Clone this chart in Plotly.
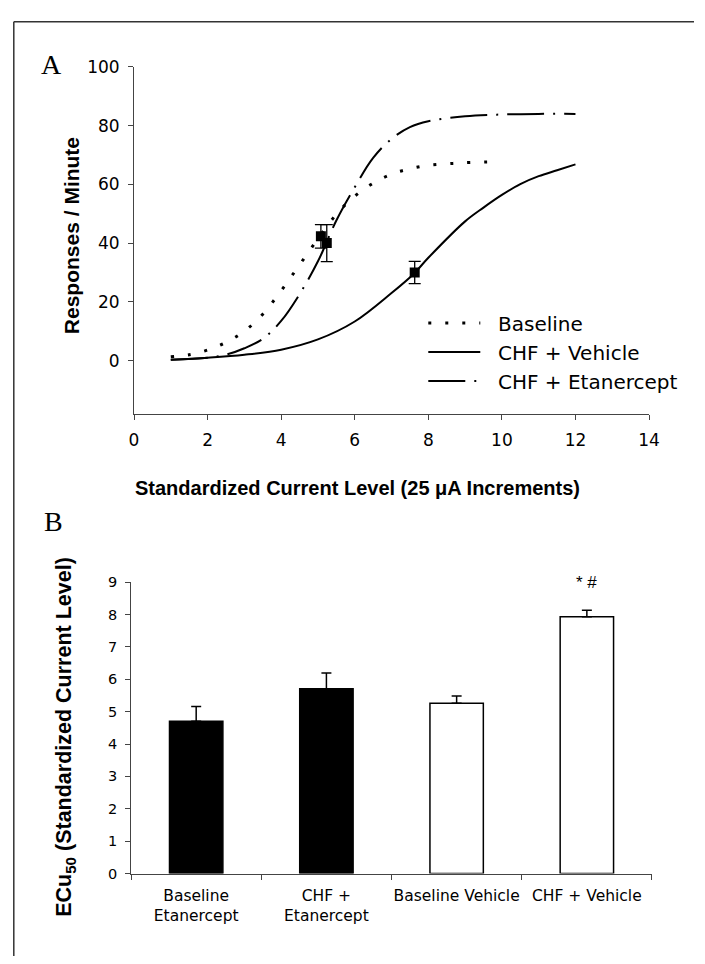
import plotly.graph_objects as go

W, H = 705, 964

# ---------------- Panel A data ----------------
base_x = [1, 1.5, 2, 2.5, 3, 3.5, 4, 4.5, 5, 5.5, 6, 6.5, 7, 7.5, 8, 8.5, 9, 9.8]
base_y = [1.3, 2.0, 3.6, 6.2, 10.0, 15.8, 23.8, 32.6, 41.5, 49.8, 56.0, 60.4, 63.5, 65.3, 66.5, 67.0, 67.4, 67.7]

veh_x = [1, 2, 3, 4, 5, 6, 7, 7.6, 8, 9, 9.5, 10, 10.5, 11, 11.5, 12]
veh_y = [0.3, 1.0, 2.0, 3.7, 7.2, 13.3, 23.0, 29.5, 35.0, 47.4, 52.1, 56.4, 60.1, 62.8, 64.8, 66.8]

etn_x = [1, 2, 2.5, 3, 3.5, 4, 4.5, 5, 5.5, 6, 6.5, 7, 7.5, 8, 9, 10, 11, 12]
etn_y = [0.3, 1.0, 2.0, 4.2, 7.4, 13.5, 22.6, 33.8, 47.7, 59.0, 69.0, 75.5, 79.5, 81.5, 83.2, 83.8, 84.0, 84.0]

pt_x = [5.08, 5.24, 7.63]
pt_y = [42.3, 40.0, 30.0]
pt_err = [4.0, 6.3, 3.8]

series_names = ["Baseline", "CHF + Vehicle", "CHF + Etanercept"]
a_xticks = [0, 2, 4, 6, 8, 10, 12, 14]
a_yticks = [0, 20, 40, 60, 80, 100]

# ---------------- Panel B data ----------------
cats = ["Baseline<br>Etanercept", "CHF +<br>Etanercept", "Baseline Vehicle", "CHF + Vehicle"]
ec50 = [4.7, 5.71, 5.26, 7.93]
ec50_err = [0.46, 0.48, 0.22, 0.2]
bar_fill = ["black", "black", "white", "white"]
sig_label = "* #"

FONT = "Liberation Sans, Arial, sans-serif"
WIDE = "DejaVu Sans, sans-serif"
SERIF = "Liberation Serif, Times New Roman, serif"
NB = "\u00a0\u00a0"

def px(x):
    return x / W

def py(y):
    return 1 - y / H

fig = go.Figure()

fig.add_trace(go.Scatter(x=base_x, y=base_y, mode="lines", name=NB + series_names[0],
                         line=dict(color="black", width=3, dash="3px,14px", shape="spline"),
                         xaxis="x", yaxis="y"))
fig.add_trace(go.Scatter(x=veh_x, y=veh_y, mode="lines", name=NB + series_names[1],
                         line=dict(color="black", width=2, shape="spline"),
                         xaxis="x", yaxis="y"))
fig.add_trace(go.Scatter(x=etn_x, y=etn_y, mode="lines", name=NB + series_names[2],
                         line=dict(color="black", width=2, dash="37px,9px,2px,9px", shape="spline"),
                         xaxis="x", yaxis="y"))
fig.add_trace(go.Scatter(x=pt_x, y=pt_y, mode="markers", showlegend=False,
                         marker=dict(symbol="square", size=10, color="black"),
                         error_y=dict(type="data", array=pt_err, color="black", thickness=1.3, width=6),
                         xaxis="x", yaxis="y"))

fig.add_trace(go.Bar(x=cats, y=ec50, showlegend=False,
                     marker=dict(color=bar_fill, line=dict(color="black", width=1.5)),
                     error_y=dict(type="data", symmetric=False, array=ec50_err,
                                  arrayminus=[0] * len(ec50_err), color="black",
                                  thickness=1.5, width=5),
                     xaxis="x2", yaxis="y2"))

axcol = "#444"
fig.update_layout(
    width=W, height=H,
    margin=dict(l=0, r=0, t=0, b=0),
    paper_bgcolor="white", plot_bgcolor="white",
    font=dict(family=FONT, color="black"),
    bargap=0.59,
    xaxis=dict(domain=[px(132), px(659)], range=[0, 14], tickvals=a_xticks,
               showline=True, linecolor=axcol, linewidth=1, ticks="outside", ticklen=5,
               tickcolor=axcol, showgrid=False, zeroline=False, anchor="y",
               tickfont=dict(size=17, family=WIDE), ticklabelstandoff=5),
    yaxis=dict(domain=[py(412), py(58)], range=[-18.3, 100], tickvals=a_yticks,
               showline=True, linecolor=axcol, linewidth=1, ticks="outside", ticklen=5,
               tickcolor=axcol, showgrid=False, zeroline=False, anchor="x",
               tickfont=dict(size=17, family=WIDE), ticklabelstandoff=5),
    xaxis2=dict(domain=[px(129), px(662)], showline=True, linecolor=axcol, linewidth=1,
                ticks="outside", ticklen=5, tickcolor=axcol, tickson="boundaries",
                showgrid=False, zeroline=False, anchor="y2", tickangle=0,
                tickfont=dict(size=15.5, family=WIDE), ticklabelstandoff=8),
    yaxis2=dict(domain=[py(880), py(583)], range=[0, 9], dtick=1,
                showline=True, linecolor=axcol, linewidth=1, ticks="outside", ticklen=5,
                tickcolor=axcol, showgrid=False, zeroline=False, anchor="x2",
                tickfont=dict(size=14.5, family=WIDE), ticklabelstandoff=5),
    legend=dict(x=px(428), y=py(299), xanchor="left", yanchor="top",
                font=dict(size=20, family=WIDE), itemwidth=52,
                bgcolor="rgba(0,0,0,0)", tracegroupgap=0),
)

annos = [
    dict(text="A", x=px(48), y=py(56), font=dict(size=28, family=SERIF)),
    dict(text="B", x=px(50), y=py(521), font=dict(size=28, family=SERIF)),
    dict(text="<b>Responses / Minute</b>", x=px(68), y=py(230), textangle=-90,
         font=dict(size=21, family=FONT)),
    dict(text="<b>Standardized Current Level (25 μA Increments)</b>", x=px(361), y=py(487),
         font=dict(size=20, family=FONT)),
    dict(text="<b>ECu<sub>50</sub> (Standardized Current Level)</b>", x=px(62), y=py(741),
         textangle=-90, font=dict(size=21.5, family=FONT)),
]
for a in annos:
    a.update(xref="paper", yref="paper", showarrow=False, xanchor="center", yanchor="middle")
    fig.add_annotation(**a)

fig.add_annotation(text=sig_label, x=cats[3], y=9.0, xref="x2", yref="y2", showarrow=False,
                   font=dict(size=17, family=FONT), yanchor="middle")

# outer frame (top and left edges)
fig.add_shape(type="line", xref="paper", yref="paper", x0=px(9), y0=py(12), x1=1, y1=py(12),
              line=dict(color="#333", width=1.5))
fig.add_shape(type="line", xref="paper", yref="paper", x0=px(9), y0=py(12), x1=px(9), y1=0,
              line=dict(color="#333", width=1.5))

fig.write_html("out.html")
